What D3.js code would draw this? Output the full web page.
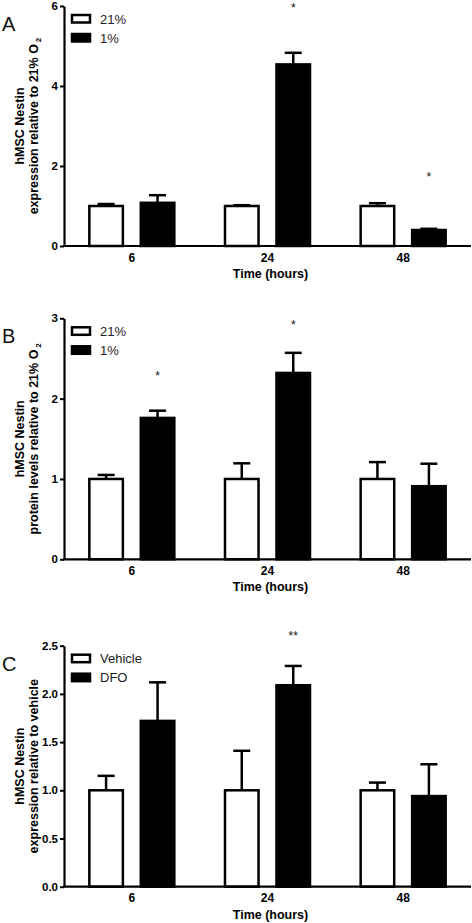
<!DOCTYPE html>
<html>
<head>
<meta charset="utf-8">
<script src="https://cdn.jsdelivr.net/npm/d3@7/dist/d3.min.js"></script>
<style>
  html, body { margin: 0; padding: 0; background: #fff; }
  svg { display: block; }
  text { font-family: Arial, "Liberation Sans", sans-serif; }
</style>
</head>
<body>
<svg id="chart" width="472" height="923"></svg>
<script>
// ---------- DATA ----------
const timeLabels = ["6", "24", "48"];

// Panel A: Nestin mRNA expression, 21% vs 1% O2
const aSeries = ["21%", "1%"];
const aControl = [1.00, 1.00, 1.00];
const aControlErr = [0.05, 0.02, 0.07];
const aTreated = [1.08, 4.54, 0.40];
const aTreatedErr = [0.19, 0.29, 0.03];
const aTicks = [0, 2, 4, 6];
const aStars = ["", "*", "*"];
const aStarY = [null, 6.02, 1.81];

// Panel B: Nestin protein levels, 21% vs 1% O2
const bSeries = ["21%", "1%"];
const bControl = [1.00, 1.00, 1.00];
const bControlErr = [0.05, 0.195, 0.21];
const bTreated = [1.76, 2.32, 0.91];
const bTreatedErr = [0.09, 0.25, 0.28];
const bTicks = [0, 1, 2, 3];
const bStars = ["*", "*", ""];
const bStarY = [2.32, 2.96, null];

// Panel C: Nestin expression, Vehicle vs DFO
const cSeries = ["Vehicle", "DFO"];
const cControl = [1.00, 1.00, 1.00];
const cControlErr = [0.15, 0.41, 0.08];
const cTreated = [1.72, 2.09, 0.94];
const cTreatedErr = [0.40, 0.20, 0.33];
const cTicks = [0, 0.5, 1.0, 1.5, 2.0, 2.5];
const cStars = ["", "**", ""];
const cStarY = [null, 2.63, null];

// ---------- DRAWING ----------
const svg = d3.select("#chart");
const axisX0 = 64, axisX1 = 471;

function panel(cfg) {
  const g = svg.append("g");
  const top = cfg.top, bottom = cfg.bottom;

  const y = d3.scaleLinear().domain([0, d3.max(cfg.ticks)]).range([bottom, top]);
  const x0 = d3.scaleBand().domain(timeLabels).range([axisX0, axisX1])
    .paddingInner(0.355).paddingOuter(0.1775);
  const x1 = d3.scaleBand().domain(cfg.series).range([0, x0.bandwidth()]).paddingInner(0.3);

  const rows = timeLabels.map((t, i) => ({
    t,
    bars: [
      { s: cfg.series[0], v: cfg.control[i], e: cfg.controlErr[i], fill: "#fff" },
      { s: cfg.series[1], v: cfg.treated[i], e: cfg.treatedErr[i], fill: "#000" }
    ],
    star: cfg.stars[i], starY: cfg.starY[i]
  }));

  const grp = g.selectAll("g.grp").data(rows).join("g")
    .attr("class", "grp")
    .attr("transform", d => `translate(${x0(d.t)},0)`);

  // error bars (upward only)
  grp.selectAll("g.err").data(d => d.bars).join("g").attr("class", "err")
    .each(function(b) {
      const cx = x1(b.s) + x1.bandwidth() / 2;
      const sel = d3.select(this);
      sel.append("line").attr("x1", cx).attr("x2", cx)
        .attr("y1", y(b.v)).attr("y2", y(b.v + b.e))
        .attr("stroke", "#000").attr("stroke-width", 2.5);
      sel.append("line").attr("x1", cx - 8.5).attr("x2", cx + 8.5)
        .attr("y1", y(b.v + b.e)).attr("y2", y(b.v + b.e))
        .attr("stroke", "#000").attr("stroke-width", 2.5);
    });

  // bars
  grp.selectAll("rect.bar").data(d => d.bars).join("rect").attr("class", "bar")
    .attr("x", b => x1(b.s) + 1.25)
    .attr("width", x1.bandwidth() - 2.5)
    .attr("y", b => y(b.v))
    .attr("height", b => y(0) - y(b.v))
    .attr("fill", b => b.fill)
    .attr("stroke", "#000").attr("stroke-width", 2.5);

  // significance stars
  grp.filter(d => d.star).append("text")
    .attr("x", x1(cfg.series[1]) + x1.bandwidth() / 2)
    .attr("y", d => y(d.starY) + 7)
    .attr("text-anchor", "middle")
    .attr("font-size", 12)
    .attr("fill", "#111")
    .text(d => d.star);

  // y axis
  const yAxis = d3.axisLeft(y).tickValues(cfg.ticks).tickSize(4).tickSizeOuter(0)
    .tickFormat(cfg.fmt);
  const ya = g.append("g").attr("transform", `translate(${axisX0},0)`).call(yAxis);
  ya.select(".domain").attr("stroke", "#000").attr("stroke-width", 2.2);
  ya.selectAll(".tick line").attr("stroke", "#000").attr("stroke-width", 2);
  ya.selectAll(".tick text").attr("font-size", 11.5).attr("font-weight", "bold")
    .attr("font-family", "Arial, 'Liberation Sans', sans-serif")
    .attr("fill", "#000").attr("x", -6);

  // x axis
  const xAxis = d3.axisBottom(x0).tickSize(0).tickSizeOuter(0);
  const xa = g.append("g").attr("transform", `translate(0,${bottom})`).call(xAxis);
  xa.select(".domain").attr("stroke", "#000").attr("stroke-width", 2.2)
    .attr("d", `M${axisX0 - 1},0H${axisX1}`);
  xa.selectAll(".tick text").attr("font-size", 12).attr("font-weight", "bold")
    .attr("font-family", "Arial, 'Liberation Sans', sans-serif")
    .attr("fill", "#000").attr("y", 7);

  // x title
  if (cfg.xTitle) {
    g.append("text").attr("x", (axisX0 + axisX1) / 2 + 3).attr("y", bottom + 32)
      .attr("text-anchor", "middle").attr("font-size", 12.5).attr("font-weight", "bold")
      .text("Time (hours)");
  }

  // y title (two lines, rotated)
  const midY = (top + bottom) / 2;
  const yt = g.append("text")
    .attr("transform", `translate(0,${midY}) rotate(-90)`)
    .attr("text-anchor", "middle").attr("font-size", 12.5).attr("font-weight", "bold");
  yt.append("tspan").attr("x", 0).attr("y", 23.5).text("hMSC Nestin");
  yt.append("tspan").attr("x", 0).attr("y", 38).text(cfg.yTitle2);
  if (cfg.subO2) {
    yt.append("tspan").attr("font-size", 8).attr("dy", 3).attr("dx", 2).text("2");
  }

  // panel letter
  g.append("text").attr("x", 2).attr("y", top + 25).attr("font-size", 20)
    .attr("fill", "#111").text(cfg.letter);

  // legend
  const lg = g.append("g").attr("transform", `translate(72,${top + 9})`);
  cfg.series.forEach((s, i) => {
    lg.append("rect").attr("x", 0).attr("y", i * 19).attr("width", 18).attr("height", 7.5)
      .attr("fill", i === 0 ? "#fff" : "#000").attr("stroke", "#000").attr("stroke-width", 2.5);
    lg.append("text").attr("x", 28).attr("y", i * 19 + 4).attr("dy", "0.35em")
      .attr("font-size", 13).attr("fill", "#222").text(s);
  });
}

panel({ letter: "A", top: 6, bottom: 246, series: aSeries, control: aControl, controlErr: aControlErr,
  treated: aTreated, treatedErr: aTreatedErr, ticks: aTicks, stars: aStars, starY: aStarY,
  fmt: d3.format("d"), yTitle2: "expression relative to 21% O", subO2: true, xTitle: true });

panel({ letter: "B", top: 318.3, bottom: 559.3, series: bSeries, control: bControl, controlErr: bControlErr,
  treated: bTreated, treatedErr: bTreatedErr, ticks: bTicks, stars: bStars, starY: bStarY,
  fmt: d3.format("d"), yTitle2: "protein levels relative to 21% O", subO2: true, xTitle: true });

panel({ letter: "C", top: 645.7, bottom: 886.7, series: cSeries, control: cControl, controlErr: cControlErr,
  treated: cTreated, treatedErr: cTreatedErr, ticks: cTicks, stars: cStars, starY: cStarY,
  fmt: d3.format(".1f"), yTitle2: "expression relative to vehicle", subO2: false, xTitle: true });
</script>
</body>
</html>
